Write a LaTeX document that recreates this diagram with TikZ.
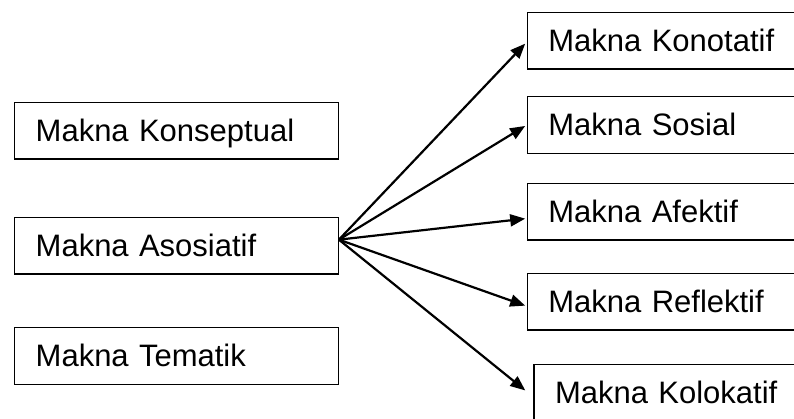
\documentclass[tikz,border=0pt]{standalone}
\usepackage{fontspec}
\setmainfont{Liberation Sans}
\usetikzlibrary{arrows.meta}

\begin{document}
\begin{tikzpicture}[x=1pt,y=-1pt,
  box/.style={draw,line width=1.4pt,anchor=north west,minimum height=56.5pt,
    inner xsep=21pt,text height=22pt,text depth=0pt,align=left,
    font=\fontsize{31}{36}\selectfont},
  lbox/.style={box,text width=281.5pt},
  rbox/.style={box,text width=300pt},
  arr/.style={line width=2.2pt,-{Triangle[length=15pt,width=12pt]}}]
  \useasboundingbox (0,0) rectangle (794,418);
  \clip (0,0) rectangle (794,418);
  % left column
  \node[lbox] (konsep) at (14,101.7) {Makna Konseptual};
  \node[lbox] (asos) at (14,216.7) {Makna Asosiatif};
  \node[lbox] (tema) at (14,327) {Makna Tematik};
  % right column
  \node[rbox] (konot) at (526.7,11.7) {Makna Konotatif};
  \node[rbox] (sosial) at (526.7,96) {Makna Sosial};
  \node[rbox] (afek) at (526.7,182.7) {Makna Afektif};
  \node[rbox] (refl) at (526.7,272.7) {Makna Reflektif};
  \node[rbox] (kolo) at (533.3,364) {Makna Kolokatif};
  % fan of arrows
  \coordinate (fan) at ([yshift=6pt]asos.east);
  \draw[arr] (fan) -- ([xshift=-1.5pt,yshift=-3pt]konot.west);
  \draw[arr] (fan) -- ([xshift=-1.5pt,yshift=-1pt]sosial.west);
  \draw[arr] (fan) -- ([xshift=-1.5pt,yshift=-7pt]afek.west);
  \draw[arr] (fan) -- ([xshift=-1.5pt,yshift=-4pt]refl.west);
  \draw[arr] (fan) -- ([xshift=-8pt,yshift=2.5pt]kolo.west);
\end{tikzpicture}
\end{document}
